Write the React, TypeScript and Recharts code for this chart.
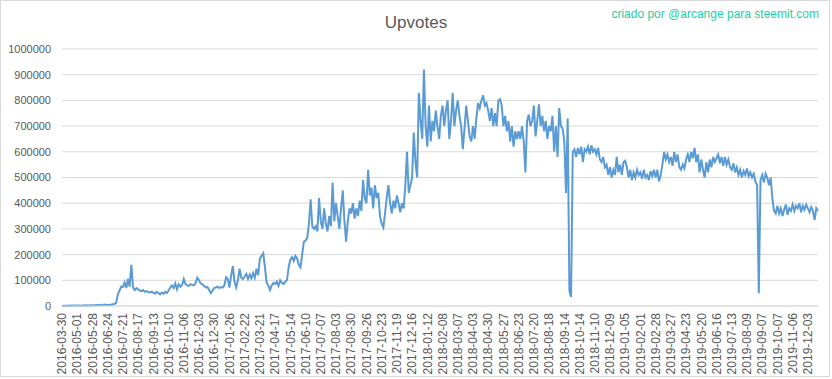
import React from "react";
import { LineChart, Line, XAxis, YAxis, CartesianGrid } from "recharts";

// Tick labels of the category axis (one every 27 days of data)
const tickLabels: string[] = [
  "2016-03-30", "2016-05-01", "2016-05-28", "2016-06-24", "2016-07-21", "2016-08-17",
  "2016-09-13", "2016-10-10", "2016-11-06", "2016-12-03", "2016-12-30",
  "2017-01-26", "2017-02-22", "2017-03-21", "2017-04-17", "2017-05-14", "2017-06-10",
  "2017-07-07", "2017-08-03", "2017-08-30", "2017-09-26", "2017-10-23", "2017-11-19", "2017-12-16",
  "2018-01-12", "2018-02-08", "2018-03-07", "2018-04-03", "2018-04-30", "2018-05-27",
  "2018-06-23", "2018-07-20", "2018-08-18", "2018-09-14", "2018-10-14", "2018-11-10", "2018-12-09",
  "2019-01-05", "2019-02-01", "2019-02-28", "2019-03-27", "2019-04-23", "2019-05-20",
  "2019-06-16", "2019-07-13", "2019-08-09", "2019-09-07", "2019-10-07", "2019-11-06", "2019-12-03",
];

// Upvotes (thousands), sampled every 3 days; 9 samples per tick interval
const upvotes2016: number[] = [
  0, 1, 1, 1, 1, 2, 1, 2, 2,
  2, 2, 1, 2, 2, 3, 2, 2, 3,
  3, 2, 4, 3, 5, 3, 4, 6, 4,
  4, 5, 5, 7, 8, 12, 45, 60, 75,
  74, 92, 70, 105, 75, 160, 72, 62, 70,
  65, 60, 58, 62, 55, 58, 55, 52, 56,
  52, 48, 55, 50, 45, 52, 48, 55, 50,
  60, 72, 80, 70, 88, 65, 85, 75, 82,
  105, 85, 80, 78, 85, 82, 80, 90, 110,
  100, 88, 85, 78, 72, 74, 62, 50, 60,
  70, 72, 75, 70, 74, 72, 80, 112, 105,
];

const upvotes2017: number[] = [
  72, 118, 155, 95, 72, 100, 145, 110, 105,
  115, 125, 105, 122, 108, 128, 110, 145, 120,
  185, 195, 205, 150, 90, 80, 62, 80, 90,
  85, 95, 78, 100, 90, 85, 95, 100, 150,
  180, 190, 175, 195, 185, 160, 150, 200, 250,
  255, 265, 320, 415, 310, 300, 310, 290, 420,
  330, 300, 380, 320, 290, 350, 310, 480, 330,
  400, 350, 300, 380, 450, 330, 250, 330, 380,
  360, 400, 340, 380, 350, 410, 370, 490, 420,
  400, 530, 430, 460, 380, 470, 420, 440, 350,
  320, 305, 360, 420, 470, 400, 360, 410, 380,
  430, 400, 365, 400, 380, 470, 600, 440, 470,
  500, 675, 560, 500, 830, 720, 650, 920, 700,
];

const upvotes2018: number[] = [
  620, 780, 640, 720, 680, 760, 700, 650, 740,
  780, 700, 760, 800, 650, 720, 830, 700, 760,
  800, 740, 700, 610, 690, 780, 720, 660, 640,
  700, 650, 730, 790, 770, 800, 820, 780, 790,
  760, 720, 770, 700, 750, 700, 800, 805, 780,
  700, 740, 680, 720, 640, 700, 620, 680, 650,
  680, 650, 700, 640, 520, 720, 745, 700, 720,
  780, 660, 720, 785, 700, 740, 680, 720, 650,
  700, 680, 740, 600, 700, 580, 770, 700, 690,
  640, 440, 730, 60, 35, 600, 610, 580, 615,
  590, 620, 560, 610, 600, 620, 590, 625, 600,
  610, 590, 615, 570, 560, 580, 540, 550, 510,
  540, 500, 530, 510, 580, 520, 550, 510, 560,
];

const upvotes2019: number[] = [
  565, 540, 500, 530, 490, 520, 500, 530, 510,
  520, 495, 530, 500, 510, 490, 525, 505, 530,
  500, 530, 485, 510, 550, 600, 570, 590, 560,
  580, 545, 600, 560, 590, 540, 530, 550, 535,
  570, 590, 560, 600, 575, 615, 560, 590, 520,
  570, 530, 500, 560, 520, 570, 540, 580, 560,
  575, 590, 555, 580, 545, 580, 550, 570, 540,
  530, 555, 520, 540, 510, 530, 500, 525, 510,
  535, 505, 520, 500, 515, 485, 470, 50, 490,
  510, 480, 515, 500, 470, 500, 420, 370, 360,
  390, 360, 380, 350, 375, 395, 355, 380, 370,
  395, 370, 390, 380, 400, 365, 390, 375, 395,
  380, 365, 385, 370, 335, 380, 370,
];

const yTicks: number[] = [0, 100000, 200000, 300000, 400000, 500000, 600000, 700000, 800000, 900000, 1000000];

const SAMPLES_PER_TICK = 9;
const STEP_DAYS = 3;

function addDays(s: string, n: number): string {
  const d = new Date(s + "T00:00:00Z");
  d.setUTCDate(d.getUTCDate() + n);
  return d.toISOString().slice(0, 10);
}

const allValues = [...upvotes2016, ...upvotes2017, ...upvotes2018, ...upvotes2019];
const data = allValues.map((v, k) => {
  const i = Math.floor(k / SAMPLES_PER_TICK);
  const j = k % SAMPLES_PER_TICK;
  const date = j === 0 ? tickLabels[i] : addDays(tickLabels[i], j * STEP_DAYS);
  return { date, upvotes: v * 1000 };
});

const FONT = "'Liberation Sans', Arial, sans-serif";
const LABEL = "#595959";
const GRID = "#D9D9D9";

const XTick = (props: any) => {
  const { x, y, payload } = props;
  return (
    <g transform={`translate(${x},${y - 1})`}>
      <text
        transform="rotate(-90)"
        textAnchor="end"
        dy="0.35em"
        fill={LABEL}
        fontSize={12}
        fontFamily={FONT}
      >
        {payload.value}
      </text>
    </g>
  );
};

export default function App() {
  return (
    <div style={{ position: "absolute", left: 0, top: 0, width: 832, height: 379, background: "#fff" }}>
      <LineChart
        width={832}
        height={379}
        data={data}
        margin={{ top: 49, right: 14, bottom: 3, left: 0 }}
      >
        <CartesianGrid vertical={false} stroke={GRID} />
        <XAxis
          dataKey="date"
          type="category"
          interval={SAMPLES_PER_TICK - 1}
          tickLine={false}
          axisLine={{ stroke: GRID }}
          height={70}
          tick={<XTick />}
        />
        <YAxis
          width={62}
          domain={[0, 1000000]}
          ticks={yTicks}
          tickLine={false}
          axisLine={false}
          tickMargin={5}
          tickFormatter={(v: number) => String(v)}
          tick={{ fill: LABEL, fontSize: 11, fontFamily: FONT }}
          interval={0}
        />
        <Line
          type="linear"
          dataKey="upvotes"
          stroke="#5B9BD5"
          strokeWidth={2}
          dot={false}
          isAnimationActive={false}
        />
      </LineChart>
      <svg
        width={832}
        height={379}
        style={{ position: "absolute", left: 0, top: 0, pointerEvents: "none" }}
      >
        <rect x={0.5} y={0.5} width={829} height={376} fill="none" stroke={GRID} />
        <text x={416} y={28} textAnchor="middle" fill={LABEL} fontSize={17} fontFamily={FONT}>
          Upvotes
        </text>
        <text x={819} y={18} textAnchor="end" fill="#1CCFA5" fontSize={12} fontFamily={FONT}>
          criado por @arcange para steemit.com
        </text>
      </svg>
    </div>
  );
}
